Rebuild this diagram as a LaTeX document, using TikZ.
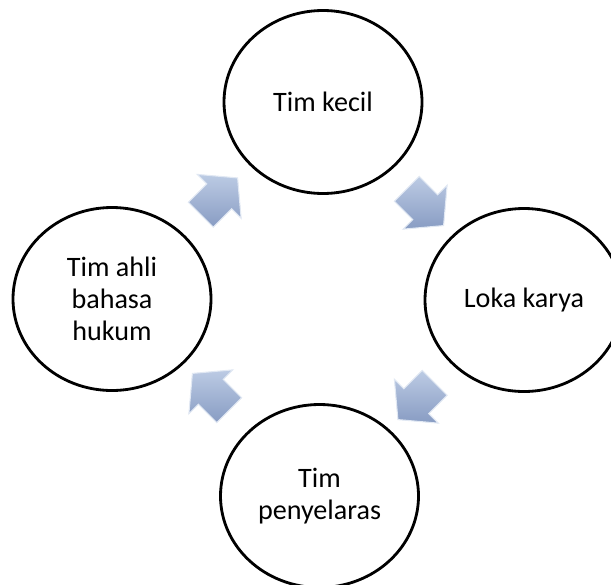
\documentclass[tikz,border=0pt]{standalone}
\usepackage{fontspec}
\setmainfont{Carlito}
\usepackage{tikz}
\usetikzlibrary{shapes.geometric,shapes.arrows}
\definecolor{arrowlight}{RGB}{188,203,228}
\definecolor{arrowdark}{RGB}{136,156,195}

\begin{document}
\begin{tikzpicture}[
  stage/.style={ellipse, draw, line width=1.6pt, minimum width=3.96cm, minimum height=3.66cm, inner sep=0pt, align=center, font=\fontsize{16}{18.2}\selectfont},
  flow/.style={single arrow, draw=white!55!arrowlight, line width=.6pt, top color=arrowlight, bottom color=arrowdark, minimum height=1.04cm, minimum width=1.22cm, single arrow head extend=.27cm, single arrow tip angle=100, inner xsep=0pt, inner ysep=.34cm}]
  \useasboundingbox (0cm, 0cm) rectangle (12.22cm, 11.68cm);
  \node [stage] (kecil) at (6.46cm, 9.64cm) {Tim kecil};
  \node [stage] (loka) at (10.48cm, 5.68cm) {Loka karya};
  \node [stage] (selaras) at (6.39cm, 1.76cm) {Tim\\penyelaras};
  \node [stage] (ahli) at (2.24cm, 5.70cm) {Tim ahli\\bahasa\\hukum};
  \node [flow, rotate=45] (a1) at (4.28cm, 7.65cm) {};
  \node [flow, rotate=-45] (a2) at (8.40cm, 7.64cm) {};
  \node [flow, rotate=-135] (a3) at (8.43cm, 3.76cm) {};
  \node [flow, rotate=135] (a4) at (4.32cm, 3.74cm) {};
\end{tikzpicture}
\end{document}
